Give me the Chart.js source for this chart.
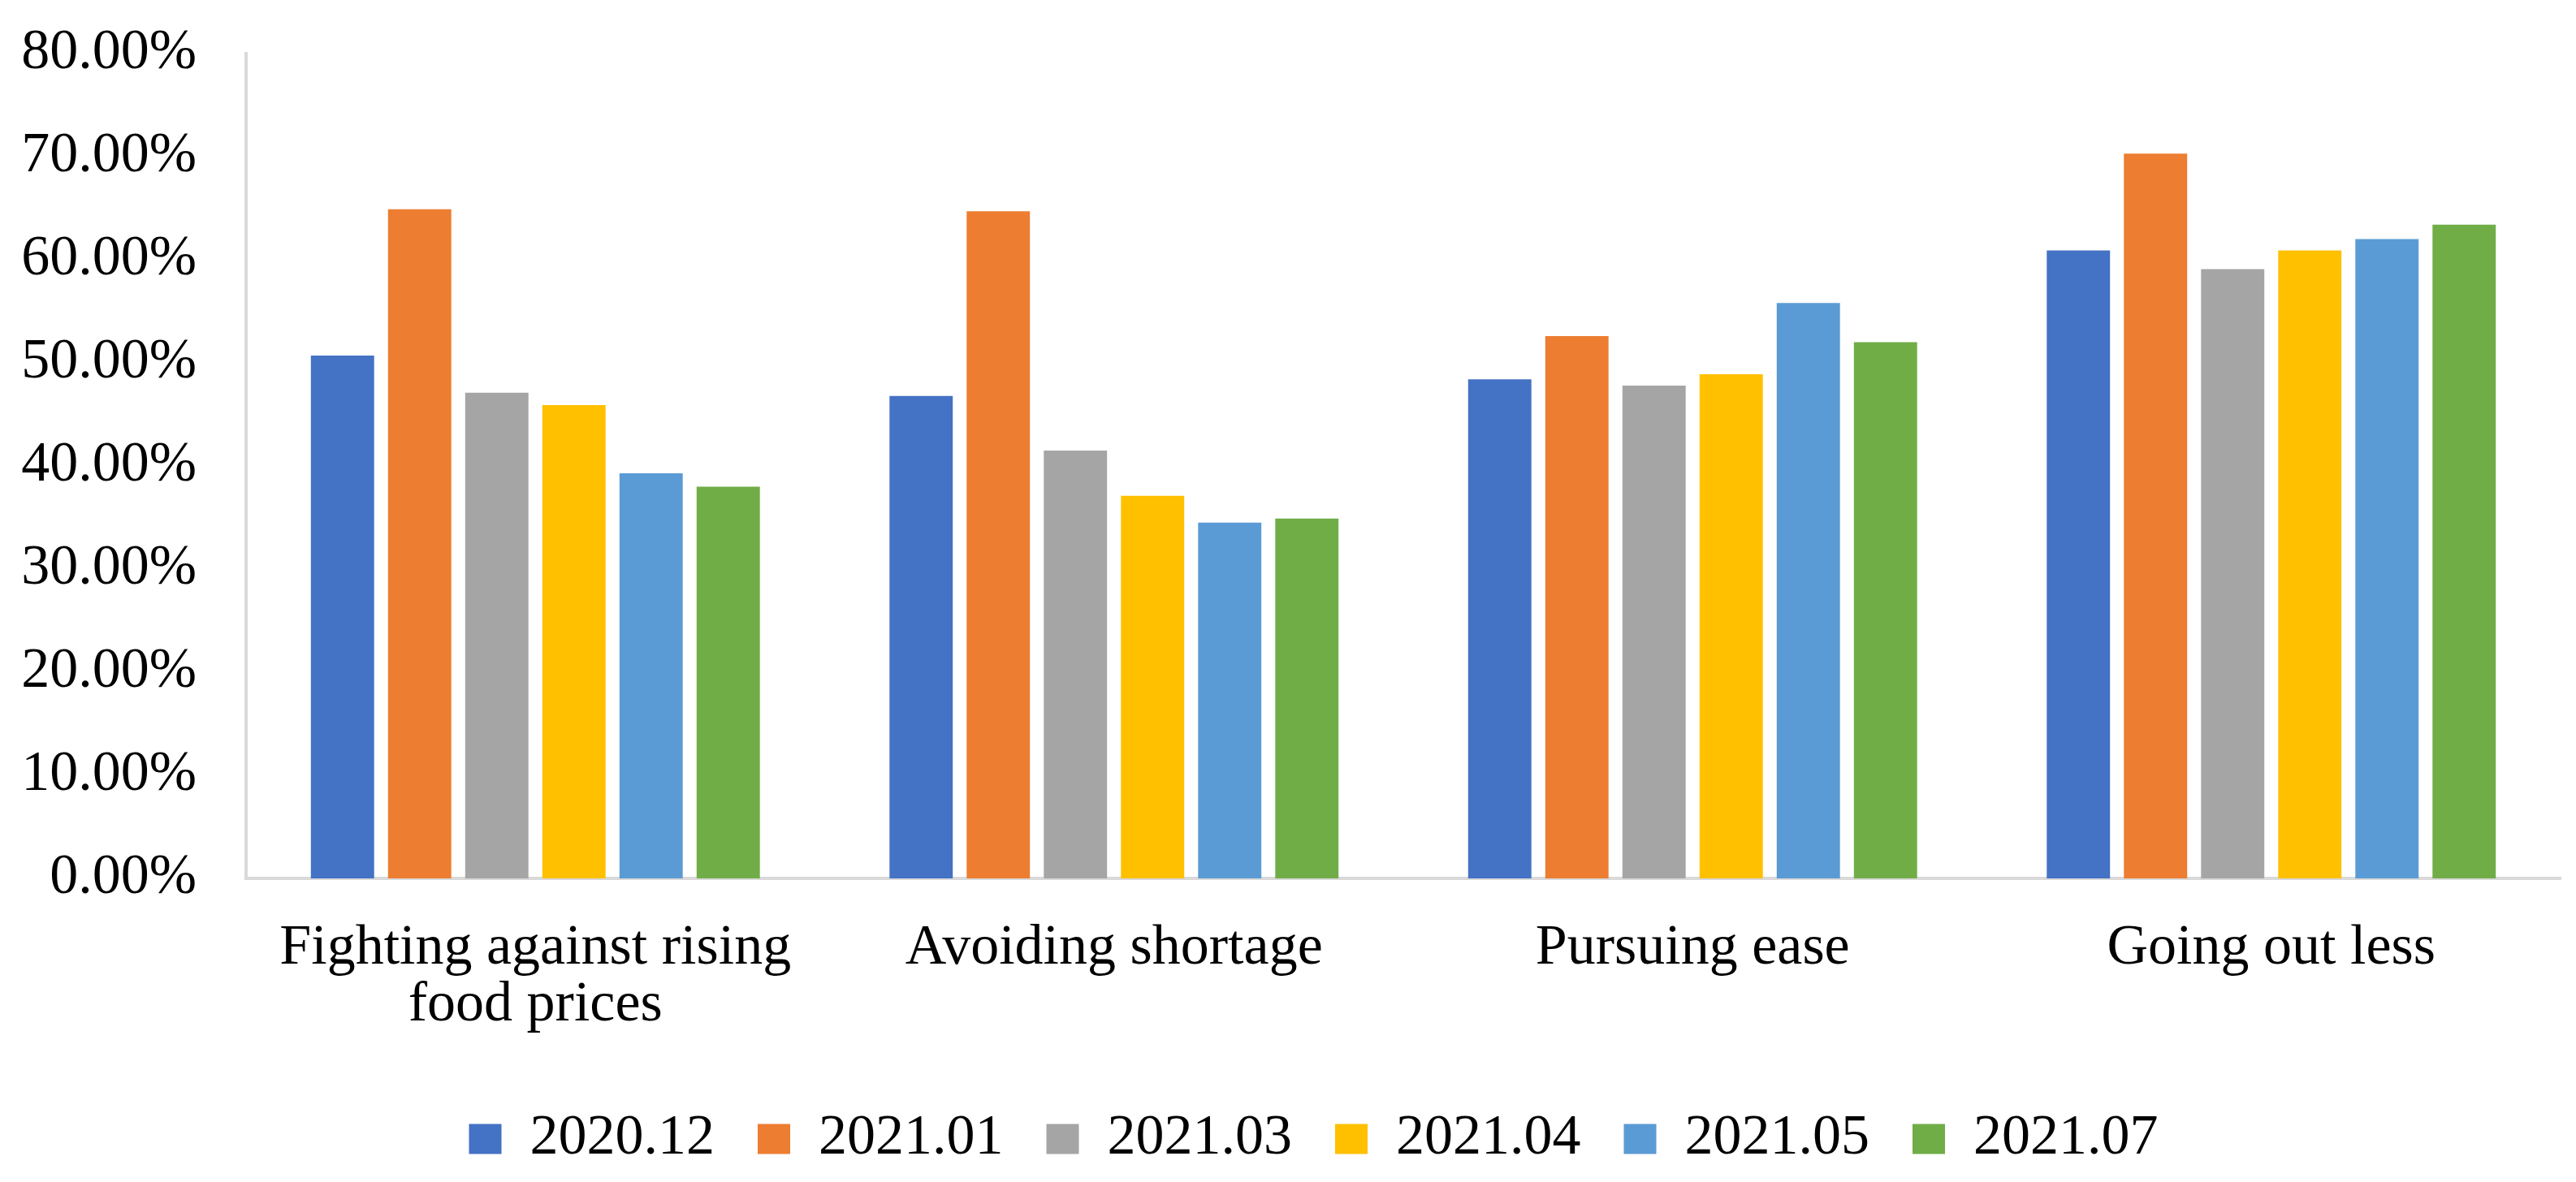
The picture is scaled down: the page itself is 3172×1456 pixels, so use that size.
<!DOCTYPE html>
<html>
<head>
<meta charset="utf-8">
<script src="https://cdn.jsdelivr.net/npm/chart.js@4.4.1/dist/chart.umd.min.js"></script>
<style>
  html, body { margin: 0; padding: 0; background: #fff; }
</style>
</head>
<body>
<canvas id="grafico" width="3172" height="1456"></canvas>
<script>
// categorie e serie (valori in %)
var categorie = [
  ['Fighting against rising', 'food prices'],
  'Avoiding shortage',
  'Pursuing ease',
  'Going out less'
];
var serie = ['2020.12', '2021.01', '2021.03', '2021.04', '2021.05', '2021.07'];
var colori = ['#4472C4', '#ED7D31', '#A5A5A5', '#FFC000', '#5B9BD5', '#70AD47'];

var v202012 = [50.7, 46.8, 48.4, 60.9];
var v202101 = [64.9, 64.7, 52.6, 70.3];
var v202103 = [47.1, 41.5, 47.8, 59.1];
var v202104 = [45.9, 37.1, 48.9, 60.9];
var v202105 = [39.3, 34.5, 55.8, 62.0];
var v202107 = [38.0, 34.9, 52.0, 63.4];
var valori = [v202012, v202101, v202103, v202104, v202105, v202107];

var tickY = [0, 10, 20, 30, 40, 50, 60, 70, 80];

var font = "'Liberation Serif', 'Times New Roman', serif";

var datasets = [];
for (var i = 0; i < serie.length; i++) {
  datasets.push({
    label: serie[i],
    data: valori[i],
    backgroundColor: colori[i],
    borderWidth: 0,
    categoryPercentage: 0.8,
    barPercentage: 0.82
  });
}

// sposta un po' la legenda verso destra, come nell'originale
var spostaLegenda = {
  id: 'spostaLegenda',
  afterLayout: function (chart) {
    chart.legend.left += 30;
    chart.legend.right += 30;
  }
};

var ctx = document.getElementById('grafico').getContext('2d');
var grafico = new Chart(ctx, {
  type: 'bar',
  data: { labels: categorie, datasets: datasets },
  plugins: [spostaLegenda],
  options: {
    responsive: false,
    animation: false,
    devicePixelRatio: 1,
    layout: { padding: { left: 22, right: 19, top: 66, bottom: 8 } },
    plugins: {
      tooltip: { enabled: false },
      legend: {
        position: 'bottom',
        labels: {
          color: '#000',
          font: { family: font, size: 70 },
          boxWidth: 40,
          boxHeight: 37,
          padding: 53
        }
      }
    },
    scales: {
      x: {
        grid: { display: false, drawTicks: false },
        border: { display: true, color: '#d9d9d9', width: 4 },
        afterFit: function (scale) {
          scale.height = 233;
          scale.paddingLeft = 0;
          scale.paddingRight = 0;
        },
        ticks: {
          color: '#000',
          font: { family: font, size: 70, lineHeight: 1.0 },
          padding: 52,
          maxRotation: 0,
          autoSkip: false
        }
      },
      y: {
        min: 0,
        max: 80,
        afterBuildTicks: function (scale) {
          scale.ticks = tickY.map(function (v) { return { value: v }; });
        },
        afterFit: function (scale) {
          scale.width = 281;
          scale.paddingTop = 0;
          scale.paddingBottom = 0;
        },
        grid: { display: false, drawTicks: false },
        border: { display: true, color: '#d9d9d9', width: 4 },
        ticks: {
          color: '#000',
          font: { family: font, size: 70 },
          padding: 61,
          callback: function (v) { return v.toFixed(2) + '%'; }
        }
      }
    }
  }
});
</script>
</body>
</html>
